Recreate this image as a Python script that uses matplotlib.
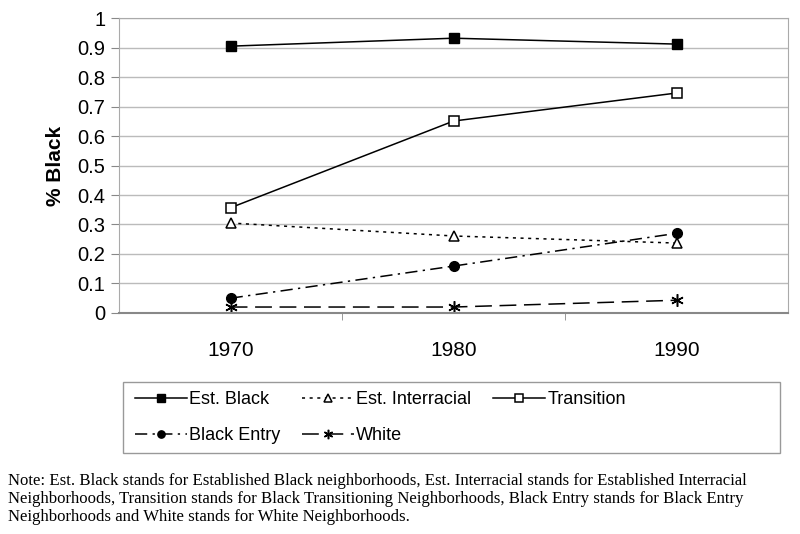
import numpy as np
import matplotlib
matplotlib.use("Agg")
from matplotlib import pyplot as plt
from matplotlib.patches import Rectangle

years = ["1970", "1980", "1990"]
est_black = [0.905, 0.932, 0.912]
est_interracial = [0.305, 0.261, 0.237]
transition = [0.357, 0.651, 0.746]
black_entry = [0.050, 0.159, 0.270]
white = [0.020, 0.020, 0.043]
yticks = [0, 0.1, 0.2, 0.3, 0.4, 0.5, 0.6, 0.7, 0.8, 0.9, 1]
ytick_labels = ["0", "0.1", "0.2", "0.3", "0.4", "0.5", "0.6", "0.7", "0.8", "0.9", "1"]
note = ("Note: Est. Black stands for Established Black neighborhoods, Est. Interracial stands for Established Interracial\n"
        "Neighborhoods, Transition stands for Black Transitioning Neighborhoods, Black Entry stands for Black Entry\n"
        "Neighborhoods and White stands for White Neighborhoods.")

plt.rcParams['font.family'] = ['Liberation Sans', 'DejaVu Sans']

fig = plt.figure(figsize=(8, 5.34), dpi=100)
ax = fig.add_axes([0.149, 0.414, 0.836, 0.552])
x = np.arange(len(years))

lw = 1.1
l1, = ax.plot(x, est_black, color="black", lw=lw, ls="-", marker="s", ms=7,
              mfc="black", mec="black", label="Est. Black")
l2, = ax.plot(x, est_interracial, color="black", lw=lw, ls=(0, (2, 3)), marker="^", ms=7.5,
              mfc="white", mec="black", mew=1.1, label="Est. Interracial")
l3, = ax.plot(x, transition, color="black", lw=lw, ls="-", marker="s", ms=7,
              mfc="white", mec="black", mew=1.1, label="Transition")
l4, = ax.plot(x, black_entry, color="black", lw=lw, ls=(0, (8, 3.5, 1.5, 3.5)), marker="o", ms=7,
              mfc="black", mec="black", label="Black Entry")
l5, = ax.plot(x, white, color="black", lw=lw, ls=(0, (11, 5)), marker=(6, 2, 0), ms=9,
              mec="black", mew=1.1, label="White")

ax.set_xlim(-0.5, 2.5)
ax.set_ylim(0, 1)
ax.set_yticks(yticks)
ax.set_yticklabels(ytick_labels, fontsize=14.5)
ax.set_xticks(x)
ax.set_xticklabels(years, fontsize=15)
ax.tick_params(axis="x", length=0, pad=20)
ax.set_xticks([0.5, 1.5], minor=True)
ax.tick_params(axis="x", which="minor", length=5, color="#888888", direction="out")
ax.tick_params(axis="y", length=6, color="#888888", pad=4)
ax.grid(axis="y", color="#bbbbbb", lw=1)
ax.set_axisbelow(True)
for s in ax.spines.values():
    s.set_color("#aaaaaa")
ax.spines["bottom"].set_color("#888888")
ax.spines["bottom"].set_linewidth(1.5)
ax.set_ylabel("% Black", fontsize=15, fontweight="bold", labelpad=9)

# legend box drawn by hand, entries laid out row by row
fig.patches.append(Rectangle((123 / 800, 1 - 453 / 534), 657 / 800, 71 / 534,
                             transform=fig.transFigure, fill=False,
                             edgecolor="#999999", lw=1))
handles = [l1, l4, l2, l5, l3]
leg = fig.legend(handles=handles, labels=[h.get_label() for h in handles], ncol=3,
                 loc="upper left", bbox_to_anchor=(135 / 800, 1 - 391 / 534), fontsize=13,
                 frameon=False, borderpad=0, borderaxespad=0,
                 handlelength=2.9, handletextpad=0.1, columnspacing=1.2,
                 labelspacing=1.05, markerscale=0.75)

fig.text(0.01, 1 - 473 / 534, note, fontsize=12.1, family=["Liberation Serif", "DejaVu Serif"],
         va="top", ha="left", linespacing=1.18)

fig.savefig("out.png", dpi=100)
